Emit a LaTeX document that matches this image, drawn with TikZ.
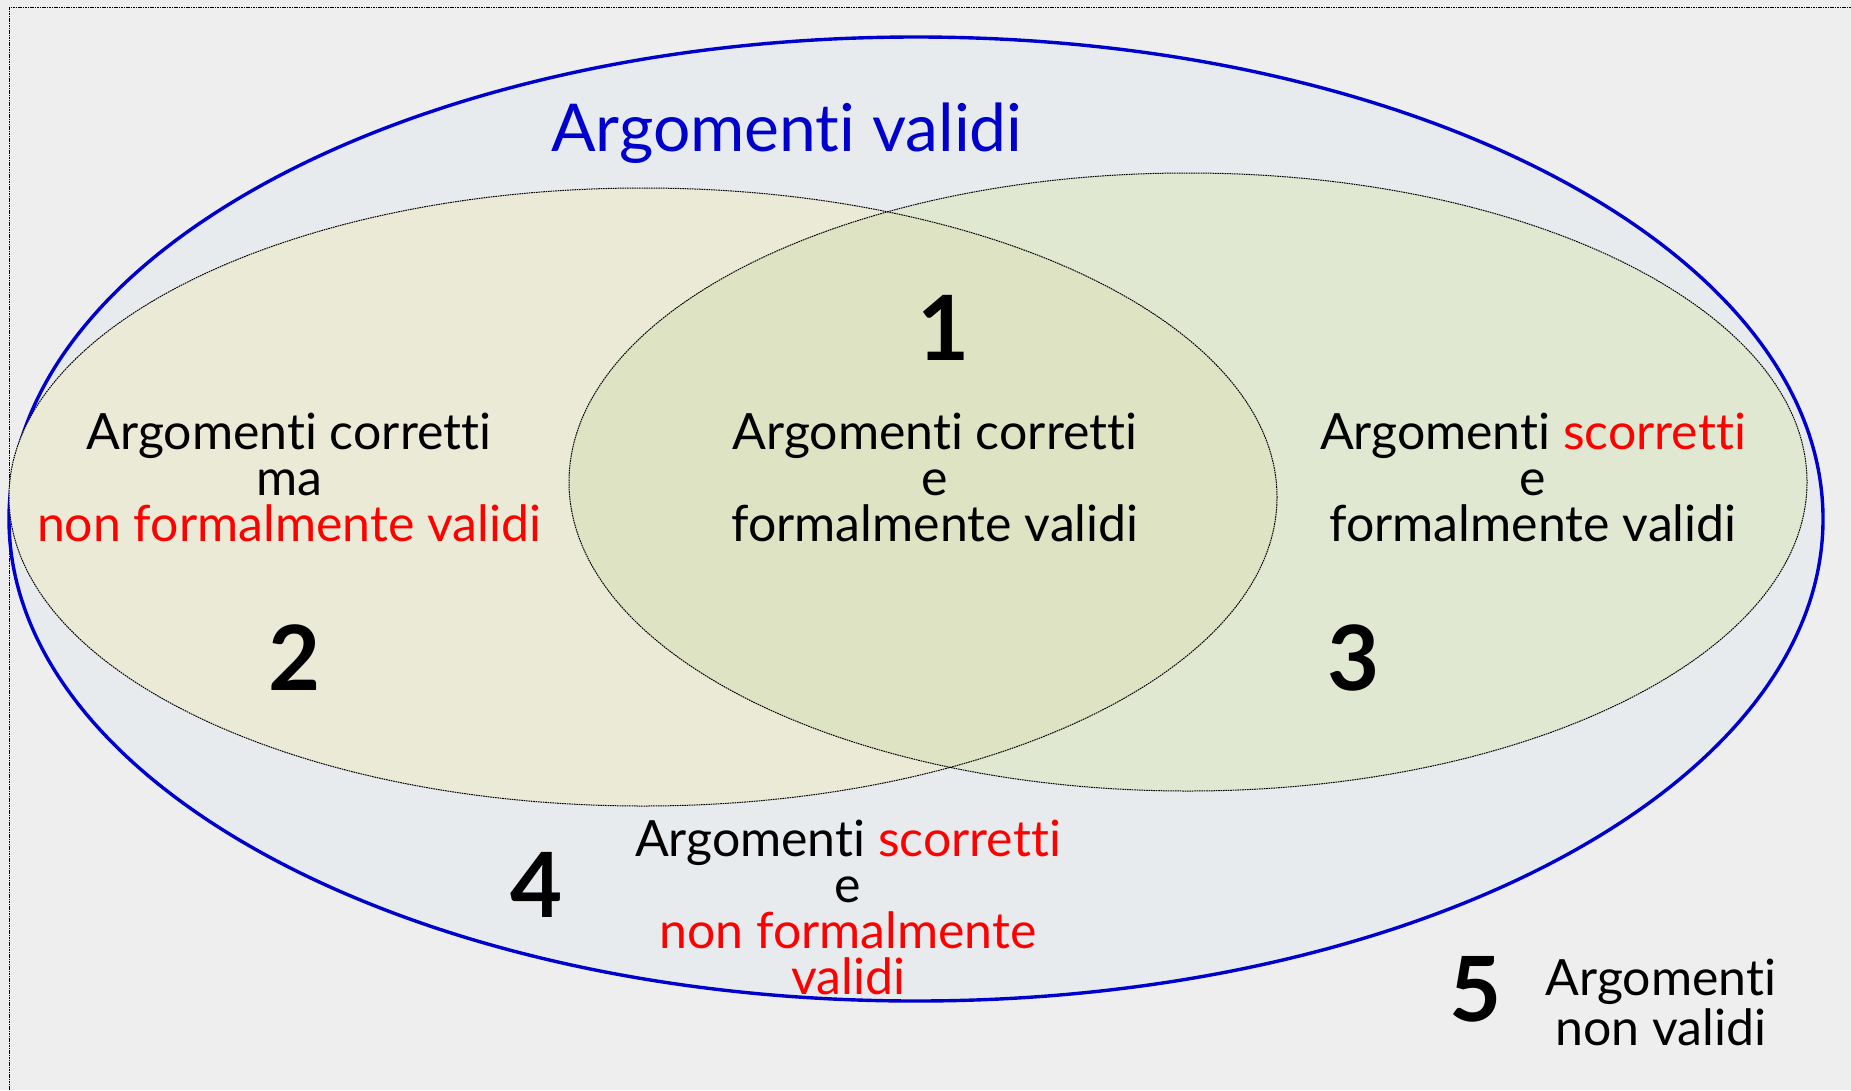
\documentclass[tikz,border=0pt]{standalone}
\usepackage{fontspec}
\setmainfont{Lato}[Ligatures=NoCommon]
\usepackage{xcolor}
\definecolor{bg}{HTML}{EEEEEE}
\definecolor{vfill}{HTML}{E7EBEE}
\definecolor{cfill}{HTML}{EBEAD7}
\definecolor{ffill}{HTML}{E1E8D2}
\definecolor{cffill}{HTML}{DEE3C3}
\definecolor{vblue}{HTML}{0000CC}
\definecolor{vred}{HTML}{FF0000}
\usepackage{tikz}
\usetikzlibrary{positioning, calc}
\tikzstyle{txt} = [align=center, font=\fontsize{50}{46}\selectfont, inner sep=0pt]
\tikzstyle{num} = [font=\fontsize{90}{90}\selectfont\bfseries, inner sep=0pt]
\tikzstyle{setline} = [draw, dash pattern=on 1.6pt off 0.8pt, line width=1pt]

\begin{document}
\begin{tikzpicture}[x=1pt, y=-1pt]
    % background and frame
    \fill[bg] (0,0) rectangle (1851,1090);
    \useasboundingbox (0,0) rectangle (1851,1090);
    \coordinate (fb) at (9,1090);
    \coordinate (ft) at (9,7);
    \coordinate (fr) at (1851,7);
    \draw[dash pattern=on 1.6pt off 0.8pt, line width=1pt] (fb) -- (ft) -- (fr);
    
    % valid arguments
    \draw[vblue, fill=vfill, line width=3.4pt]
    (916,519) ellipse [x radius=907, y radius=482];
    
    % correct and formally valid sets
    \fill[cfill] (643,497) ellipse [x radius=634, y radius=309];
    \fill[ffill] (1188,482) ellipse [x radius=619, y radius=309];
    \begin{scope}
        \clip (643,497) ellipse [x radius=634, y radius=309];
        \fill[cffill] (1188,482) ellipse [x radius=619, y radius=309];
    \end{scope}
    \draw[setline] (643,497) ellipse [x radius=634, y radius=309];
    \draw[setline] (1188,482) ellipse [x radius=619, y radius=309];
    
    % title
    \node[txt, vblue, font=\fontsize{66}{66}\selectfont] (title) at (787,133)
    {Argomenti validi};
    
    % regions
    \node[num] (n1) at (944,328) {1};
    \node[txt] (r1) at (935,477)
    {Argomenti corretti\\e\\formalmente validi};
    
    \node[num] (n2) at (295,658) {2};
    \node[txt] (r2) at (289,477)
    {Argomenti corretti\\ma\\\textcolor{vred}{non formalmente validi}};
    
    \node[num] (n3) at (1354,658) {3};
    \node[txt] (r3) at (1533,477)
    {Argomenti \textcolor{vred}{scorretti}\\e\\formalmente validi};
    
    \node[num] (n4) at (537,885) {4};
    \node[txt] (r4) at (848,907)
    {Argomenti \textcolor{vred}{scorretti}\\e\\\textcolor{vred}{non formalmente}\\\textcolor{vred}{validi}};
    
    \node[num] (n5) at (1476,989) {5};
    \node[txt, font=\fontsize{50}{50}\selectfont] (r5) at (1661,1002)
    {Argomenti\\non validi};
\end{tikzpicture}
\end{document}
